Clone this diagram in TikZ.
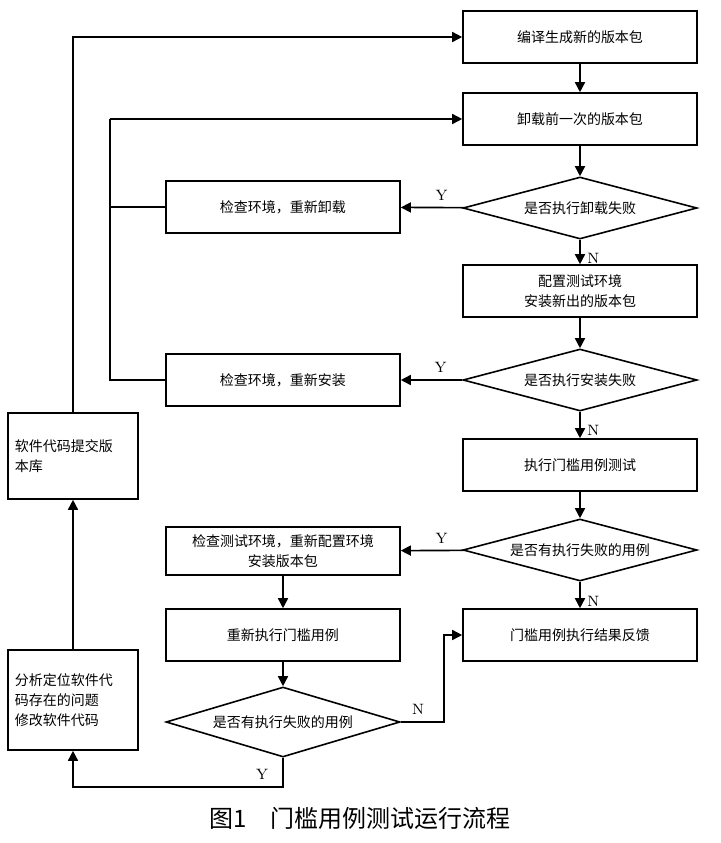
\documentclass[tikz,border=0pt]{standalone}
\usepackage{fontspec}
\newfontfamily\cjk{Noto Sans CJK SC}
\usetikzlibrary{shapes.geometric, arrows.meta}

\begin{document}
\begin{tikzpicture}[x=0.5pt, y=-0.5pt]
    \tikzset{%
        box/.style={draw, thick, minimum width=117pt, minimum height=26pt, align=center, font=\cjk\fontsize{7pt}{10pt}\selectfont},
        sidebox/.style={box, minimum width=65pt, text width=58pt, align=left},
        dec/.style={draw, thick, diamond, aspect=3.6, inner sep=1pt, minimum width=117pt, minimum height=31pt, font=\cjk\fontsize{7pt}{9pt}\selectfont},
        flow/.style={thick, -{Triangle[length=5pt, width=5pt]}},
        yn/.style={font=\fontsize{7.5pt}{9pt}\selectfont},
    }
    \useasboundingbox (0, 0) rectangle (720, 843);

    % right column
    \node[box] (build) at (580, 37) {编译生成新的版本包};
    \node[box] (remove) at (580, 119) {卸载前一次的版本包};
    \node[dec] (qremove) at (580, 208) {是否执行卸载失败};
    \node[box] (setup) at (580, 291) {配置测试环境\\安装新出的版本包};
    \node[dec] (qinstall) at (580, 380) {是否执行安装失败};
    \node[box] (run) at (580, 465) {执行门槛用例测试};
    \node[dec] (qcase) at (580, 550) {是否有执行失败的用例};
    \node[box] (report) at (580, 635) {门槛用例执行结果反馈};

    % middle column
    \node[box] (checkremove) at (283, 207) {检查环境，重新卸载};
    \node[box] (checkinstall) at (283, 380) {检查环境，重新安装};
    \node[box, minimum height=24pt] (checkenv) at (283, 551) {检查测试环境，重新配置环境\\安装版本包};
    \node[box] (rerun) at (283, 635) {重新执行门槛用例};
    \node[dec, minimum height=35pt] (qrerun) at (283, 722) {是否有执行失败的用例};

    % left column
    \node[sidebox, minimum height=43pt] (commit) at (73, 456) {软件代码提交版\\本库};
    \node[sidebox, minimum height=50pt] (analyse) at (73, 700) {分析定位软件代\\码存在的问题\\修改软件代码};

    \coordinate (loop) at (110, 119);
    \coordinate (bottom) at (73, 787);

    \draw[flow] (build) -- (remove);
    \draw[flow] (remove) -- (qremove);
    \draw[flow] (qremove) -- node[yn, pos=0.35, above] {Y} (checkremove);
    \draw[flow] (qremove) -- node[yn, pos=0.75, right] {N} (setup);
    \draw[flow] (setup) -- (qinstall);
    \draw[flow] (qinstall) -- node[yn, pos=0.35, above] {Y} (checkinstall);
    \draw[flow] (qinstall) -- node[yn, pos=0.7, right] {N} (run);
    \draw[flow] (run) -- (qcase);
    \draw[flow] (qcase) -- node[yn, pos=0.35, above] {Y} (checkenv);
    \draw[flow] (qcase) -- node[yn, pos=0.75, right] {N} (report);
    \draw[flow] (checkenv) -- (rerun);
    \draw[flow] (rerun) -- (qrerun);
    \draw[flow] (qrerun.east) -- node[yn, pos=0.4, above] {N} ++(43, 0) |- (report.west);
    \draw[flow] (qrerun.south) |- node[yn, pos=0.55, above] {Y} (bottom) -- (analyse.south);
    \draw[flow] (analyse) -- (commit);
    \draw[flow] (commit.north) |- (build.west);
    \draw[thick] (checkremove.west) -| (loop);
    \draw[thick] (checkinstall.west) -| (loop);
    \draw[flow] (loop) -- (remove.west);

    \node[font=\cjk\fontsize{12pt}{14pt}\selectfont] (caption) at (360, 818) {图1\quad 门槛用例测试运行流程};
\end{tikzpicture}
\end{document}
